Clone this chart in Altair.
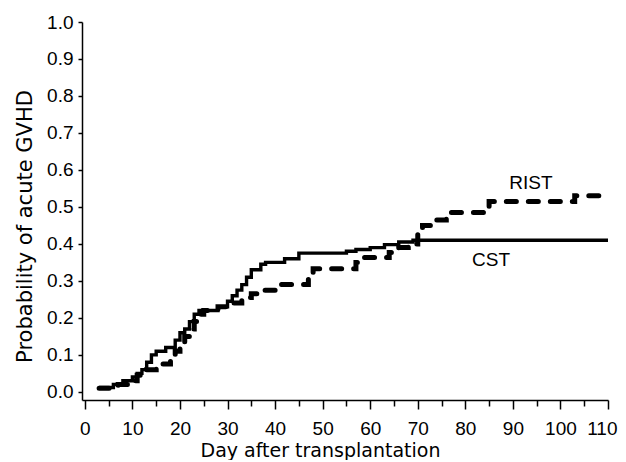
import altair as alt
import pandas as pd

# CST (solid) step curve
cst_day = [3, 6, 8, 10, 11, 12, 13, 14, 15, 17, 19, 20, 21, 22, 23, 24, 28, 30, 31, 32, 33, 34,
           35, 37, 38, 42, 45, 55, 57, 60, 63, 66, 69, 110]
cst_prob = [0.012, 0.02, 0.03, 0.04, 0.05, 0.06, 0.08, 0.10, 0.11, 0.12, 0.14, 0.16, 0.17, 0.19,
            0.21, 0.22, 0.23, 0.245, 0.26, 0.275, 0.29, 0.31, 0.33, 0.345, 0.35, 0.36, 0.375,
            0.38, 0.385, 0.39, 0.398, 0.405, 0.41, 0.41]

# RIST (dashed) step curve
rist_day = [3, 7, 9, 11, 13, 15, 18, 19, 20, 21, 22, 23, 24, 25, 28, 31, 33, 35, 37, 41, 47, 48,
            57, 58, 64, 66, 68, 70, 71, 74, 76, 85, 103, 110]
rist_prob = [0.01, 0.02, 0.03, 0.045, 0.06, 0.075, 0.085, 0.11, 0.13, 0.15, 0.17, 0.19, 0.21,
             0.22, 0.23, 0.24, 0.255, 0.265, 0.275, 0.29, 0.31, 0.333, 0.35, 0.363, 0.377, 0.39,
             0.40, 0.43, 0.45, 0.465, 0.485, 0.515, 0.53, 0.53]

x_major = list(range(0, 111, 10))
x_minor = list(range(5, 110, 10))
y_major = [round(i * 0.1, 1) for i in range(11)]

label_text = ["RIST", "CST"]
label_day = [93.8, 85.4]
label_prob = [0.566, 0.356]

cst_df = pd.DataFrame({"day": cst_day, "p": cst_prob})
rist_df = pd.DataFrame({"day": rist_day, "p": rist_prob})
lab_df = pd.DataFrame({"day": label_day, "p": label_prob, "label": label_text})
minor_df = pd.DataFrame({"day": x_minor, "p": [0.0] * len(x_minor)})

FONT = "Liberation Sans"
TFONT = "DejaVu Sans"
x_scale = alt.Scale(domain=[-0.6, 110], nice=False, zero=False)
y_scale = alt.Scale(domain=[-0.022, 1.0], nice=False, zero=False)

x_axis = alt.Axis(values=x_major, tickSize=9, labelPadding=10, labelFlush=2,
                  labelFlushOffset=9, labelOverlap=False, grid=False, titleX=238, titleY=56,
                  titleBaseline="alphabetic", titleAlign="center", titleFont=TFONT,
                  titleFontSize=19, orient="bottom")
y_axis = alt.Axis(values=y_major, format=".1f", tickSize=4, labelPadding=5,
                  labelFlush=False, labelOverlap=False, grid=False, titleX=-57, titleY=204,
                  titleAngle=270, titleAlign="center", titleBaseline="middle",
                  titleFont=TFONT, titleFontSize=21, orient="left")


def xm():
    return alt.X("day:Q", scale=x_scale, title="Day after transplantation", axis=x_axis)


def ym():
    return alt.Y("p:Q", scale=y_scale, title="Probability of acute GVHD", axis=y_axis)


solid = alt.Chart(cst_df).mark_line(interpolate="step-after", color="black",
                                     strokeWidth=3.4).encode(x=xm(), y=ym())
dashed = alt.Chart(rist_df).mark_line(interpolate="step-after", color="black", strokeWidth=5,
                                      strokeDash=[10, 12], strokeCap="round").encode(x=xm(), y=ym())
labels = alt.Chart(lab_df).mark_text(font=FONT, fontSize=19, color="black").encode(
    x=xm(), y=ym(), text="label:N")

minor = alt.Chart(minor_df).mark_point(opacity=0).encode(
    x=alt.X("day:Q", scale=x_scale, title=None,
            axis=alt.Axis(values=x_minor, tickSize=6, labels=False, domain=False, grid=False,
                          orient="bottom", offset=0)),
    y=ym(),
)

inner = alt.layer(solid, dashed, labels)
chart = alt.layer(inner, minor).resolve_scale(x="independent").resolve_axis(
    x="independent").properties(
    width=526, height=378,
    autosize=alt.AutoSizeParams(type="none"),
    padding={"left": 74, "top": 14, "right": 10, "bottom": 60},
).configure_view(strokeWidth=0).configure_axis(
    domainColor="black", domainWidth=1.5, tickColor="black", tickWidth=1.5,
    labelColor="black", labelFont=FONT, labelFontSize=19, titleFont=FONT, titleFontSize=20,
    titleFontWeight="normal", titleColor="black",
)

chart.save("out.html", embed_options={"renderer": "svg", "actions": False})
